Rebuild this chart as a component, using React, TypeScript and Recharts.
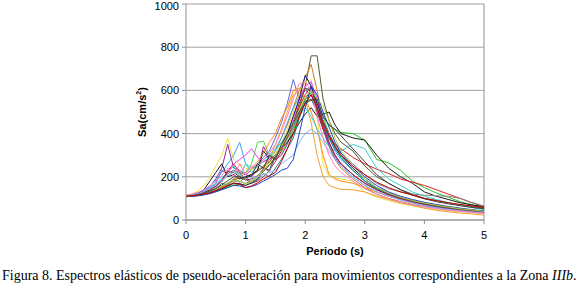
import React from "react";
import {
  LineChart,
  Line,
  XAxis,
  YAxis,
  CartesianGrid,
  ReferenceLine,
} from "recharts";

// Period values (s) shared by every record
const periods = [
  0, 0.1, 0.2, 0.3, 0.4, 0.5, 0.6, 0.7, 0.8, 0.9, 1.0, 1.1, 1.2, 1.3, 1.4, 1.5,
  1.6, 1.7, 1.8, 1.9, 2.0, 2.1, 2.2, 2.3, 2.4, 2.5, 2.6, 2.8, 3.0, 3.2, 3.4, 3.6,
  3.8, 4.0, 4.2, 4.4, 4.6, 4.8, 5.0,
];

// Sa (cm/s2), one array per record
const olive = [112, 115, 118, 124, 132, 142, 155, 170, 185, 195, 200, 210, 225, 245, 270, 300, 340, 390, 450, 520, 620, 760, 760, 560, 460, 400, 360, 320, 250, 200, 170, 140, 120, 100, 90, 80, 70, 62, 55];
const orangeBrown = [110, 112, 116, 122, 130, 140, 152, 168, 185, 195, 200, 212, 230, 250, 280, 320, 380, 440, 520, 600, 660, 720, 600, 430, 340, 280, 240, 190, 150, 120, 100, 85, 72, 62, 55, 48, 42, 38, 34];
const blueViolet = [113, 118, 125, 135, 150, 170, 230, 215, 230, 220, 210, 230, 260, 290, 320, 380, 450, 540, 650, 560, 600, 580, 500, 420, 340, 290, 250, 200, 160, 130, 110, 95, 82, 72, 62, 55, 48, 43, 38];
const yellow = [115, 120, 135, 160, 200, 250, 300, 380, 280, 260, 240, 230, 250, 270, 290, 310, 350, 420, 500, 580, 640, 650, 480, 260, 200, 195, 190, 180, 130, 105, 90, 75, 65, 55, 48, 42, 38, 34, 30];
const purple = [110, 114, 122, 135, 155, 190, 240, 350, 240, 230, 210, 200, 230, 340, 290, 280, 300, 350, 420, 500, 560, 600, 520, 420, 350, 300, 260, 210, 170, 140, 120, 100, 85, 75, 65, 58, 52, 46, 40];
const skyBlue = [112, 116, 122, 134, 155, 185, 220, 260, 300, 360, 260, 240, 250, 280, 300, 330, 380, 450, 520, 570, 600, 620, 540, 460, 380, 320, 280, 230, 180, 145, 120, 100, 85, 72, 62, 55, 48, 42, 36];
const lightGreen = [110, 112, 118, 126, 138, 155, 178, 205, 225, 215, 220, 260, 360, 365, 300, 290, 310, 360, 420, 480, 540, 590, 560, 480, 400, 340, 290, 230, 180, 140, 115, 95, 80, 68, 58, 50, 44, 40, 36];
const green = [108, 110, 114, 120, 126, 134, 142, 152, 162, 165, 160, 175, 200, 225, 255, 290, 330, 380, 440, 500, 560, 580, 540, 480, 440, 420, 405, 400, 370, 280, 265, 230, 180, 150, 125, 105, 85, 70, 58];
const black = [110, 114, 122, 140, 180, 220, 260, 200, 210, 190, 200, 210, 230, 320, 280, 300, 330, 360, 400, 450, 490, 520, 480, 490, 500, 440, 400, 380, 370, 300, 240, 200, 170, 130, 110, 95, 80, 70, 62];
const red = [110, 113, 118, 126, 138, 155, 180, 230, 260, 220, 190, 170, 180, 200, 230, 270, 320, 380, 450, 520, 580, 620, 500, 420, 380, 350, 330, 290, 260, 235, 215, 190, 175, 160, 140, 120, 100, 80, 62];
const lowOrange = [110, 112, 116, 122, 130, 140, 150, 162, 172, 168, 160, 175, 200, 235, 280, 350, 420, 500, 580, 600, 560, 450, 300, 200, 160, 150, 142, 140, 130, 110, 95, 80, 68, 55, 45, 38, 32, 28, 22];
const orange = [112, 115, 118, 124, 132, 142, 155, 170, 190, 205, 220, 240, 270, 310, 360, 400, 470, 520, 600, 610, 560, 500, 420, 300, 210, 190, 180, 170, 150, 130, 110, 95, 82, 70, 60, 52, 45, 38, 32];
const cyan = [110, 114, 120, 130, 146, 168, 195, 220, 250, 200, 260, 220, 250, 270, 290, 320, 360, 400, 440, 480, 520, 480, 420, 380, 340, 320, 320, 350, 330, 240, 190, 160, 130, 110, 95, 80, 68, 58, 48];
const magenta = [110, 113, 118, 126, 138, 155, 180, 220, 260, 280, 300, 330, 290, 270, 280, 300, 340, 400, 470, 560, 620, 640, 560, 450, 360, 300, 260, 210, 170, 140, 115, 95, 80, 68, 58, 50, 44, 40, 35];
const navy = [108, 110, 113, 118, 125, 134, 145, 158, 170, 168, 160, 172, 190, 240, 230, 300, 330, 400, 480, 560, 670, 620, 540, 460, 400, 340, 300, 240, 190, 150, 125, 105, 90, 78, 68, 60, 52, 46, 40];
const teal = [110, 112, 116, 122, 132, 145, 170, 160, 190, 175, 200, 170, 185, 215, 200, 240, 280, 330, 380, 470, 550, 560, 500, 440, 380, 330, 290, 230, 180, 145, 120, 100, 85, 72, 62, 54, 48, 42, 38];
const maroon = [112, 115, 120, 128, 140, 158, 185, 225, 220, 200, 185, 190, 205, 225, 255, 290, 330, 380, 450, 540, 610, 600, 520, 430, 360, 300, 260, 210, 170, 140, 118, 100, 86, 74, 65, 57, 50, 44, 40];
const gray = [110, 113, 117, 123, 131, 140, 152, 166, 180, 178, 170, 182, 200, 240, 225, 290, 330, 375, 430, 490, 540, 560, 520, 460, 400, 350, 310, 260, 210, 170, 145, 130, 120, 115, 112, 110, 100, 80, 65];
const lightBlue = [112, 116, 122, 132, 146, 164, 185, 205, 220, 210, 195, 195, 200, 210, 220, 230, 260, 280, 300, 360, 400, 420, 400, 360, 320, 280, 250, 200, 160, 130, 110, 92, 78, 66, 56, 48, 42, 36, 30];
const pink = [115, 120, 128, 140, 158, 180, 205, 240, 200, 260, 210, 250, 250, 280, 310, 350, 410, 480, 560, 630, 640, 600, 480, 380, 300, 250, 220, 180, 145, 118, 98, 82, 70, 60, 52, 45, 40, 35, 30];
const darkBlue = [108, 110, 112, 116, 122, 130, 140, 150, 160, 158, 150, 155, 165, 180, 195, 210, 230, 240, 280, 400, 520, 620, 580, 500, 430, 360, 310, 250, 200, 160, 130, 110, 95, 82, 72, 63, 55, 48, 42];
const yellowGreen = [110, 112, 116, 122, 131, 142, 156, 172, 185, 180, 165, 178, 200, 230, 265, 300, 340, 390, 450, 510, 570, 600, 560, 530, 460, 380, 320, 250, 190, 150, 125, 105, 90, 78, 68, 60, 52, 46, 40];
const charcoal = [110, 113, 117, 124, 134, 146, 162, 182, 200, 200, 195, 205, 260, 240, 300, 280, 350, 400, 450, 500, 540, 555, 560, 480, 440, 420, 390, 330, 270, 210, 170, 140, 115, 98, 85, 75, 66, 58, 52];
const darkRed = [110, 112, 115, 120, 127, 136, 146, 158, 170, 165, 150, 158, 172, 190, 205, 220, 270, 330, 400, 480, 540, 580, 520, 450, 390, 340, 300, 250, 210, 175, 150, 130, 115, 100, 90, 80, 72, 65, 58];

const records = [
  { key: "olive", values: olive, color: "#4e5a2c" },
  { key: "orangeBrown", values: orangeBrown, color: "#c8801c" },
  { key: "blueViolet", values: blueViolet, color: "#6464d4" },
  { key: "yellow", values: yellow, color: "#ece24a" },
  { key: "purple", values: purple, color: "#962aa0" },
  { key: "skyBlue", values: skyBlue, color: "#3ea6f0" },
  { key: "lightGreen", values: lightGreen, color: "#48dc48" },
  { key: "green", values: green, color: "#22c622" },
  { key: "black", values: black, color: "#1c1c1c" },
  { key: "red", values: red, color: "#e02222" },
  { key: "lowOrange", values: lowOrange, color: "#f2a22e" },
  { key: "orange", values: orange, color: "#ff8c10" },
  { key: "cyan", values: cyan, color: "#38d2d2" },
  { key: "magenta", values: magenta, color: "#f040f0" },
  { key: "navy", values: navy, color: "#141480" },
  { key: "teal", values: teal, color: "#148282" },
  { key: "maroon", values: maroon, color: "#82301e" },
  { key: "gray", values: gray, color: "#848484" },
  { key: "lightBlue", values: lightBlue, color: "#84b4ff" },
  { key: "pink", values: pink, color: "#ff80c4" },
  { key: "darkBlue", values: darkBlue, color: "#2244c0" },
  { key: "yellowGreen", values: yellowGreen, color: "#b4d244" },
  { key: "charcoal", values: charcoal, color: "#404040" },
  { key: "darkRed", values: darkRed, color: "#b80000" },
];

const yTicks = [0, 200, 400, 600, 800, 1000];
const xTicks = [0, 1, 2, 3, 4, 5];

const data = periods.map((t, i) => {
  const row: Record<string, number> = { t };
  records.forEach((r) => {
    row[r.key] = r.values[i];
  });
  return row;
});

const font = "'Liberation Sans', Arial, sans-serif";

function YTitle() {
  return (
    <text
      x={142}
      y={112}
      transform="rotate(-90, 142, 112)"
      textAnchor="middle"
      dominantBaseline="central"
      fontFamily={font}
      fontSize={11}
      fontWeight="bold"
      fill="#000"
    >
      Sa(cm/s
      <tspan dy={-4} fontSize={7}>
        2
      </tspan>
      <tspan dy={4}>)</tspan>
    </text>
  );
}

export default function App() {
  return (
    <div
      style={{
        position: "absolute",
        left: 0,
        top: 0,
        width: 580,
        height: 289,
        background: "#fff",
      }}
    >
      <LineChart
        width={580}
        height={260}
        data={data}
        margin={{ top: 4, right: 96, left: 126, bottom: 4 }}
        style={{ fontFamily: font }}
      >
        <CartesianGrid vertical={false} stroke="#a0a0a0" />
        <XAxis
          dataKey="t"
          type="number"
          domain={[0, 5]}
          ticks={xTicks}
          height={36}
          tickSize={4}
          tickMargin={7}
          stroke="#909090"
          tick={{ fontSize: 11, fill: "#000" }}
          label={{
            value: "Periodo (s)",
            position: "insideBottom",
            offset: 1,
            style: { fontSize: 11, fontWeight: "bold", fill: "#000" },
          }}
        />
        <YAxis
          domain={[0, 1000]}
          ticks={yTicks}
          width={60}
          tickSize={4}
          tickMargin={3}
          stroke="#909090"
          tick={{ fontSize: 11, fill: "#000" }}
          label={{ content: () => <YTitle /> }}
        />
        <ReferenceLine x={5} stroke="#909090" />
        {records.map((r) => (
          <Line
            key={r.key}
            dataKey={r.key}
            type="linear"
            stroke={r.color}
            strokeWidth={1}
            dot={false}
            isAnimationActive={false}
          />
        ))}
      </LineChart>
      <div
        style={{
          position: "absolute",
          left: 2,
          top: 268,
          whiteSpace: "nowrap",
          fontFamily: "'Liberation Serif', 'Times New Roman', serif",
          fontSize: 14,
          color: "#000",
        }}
      >
        Figura 8. Espectros elásticos de pseudo-aceleración para movimientos
        correspondientes a la Zona <i>IIIb</i>.
      </div>
    </div>
  );
}
